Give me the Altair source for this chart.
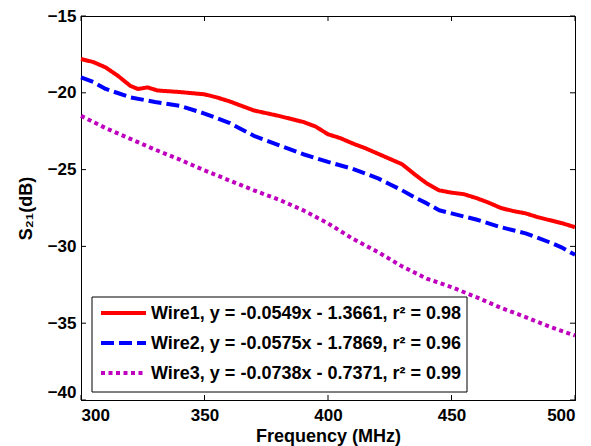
import altair as alt
import pandas as pd

# ---- data ----
w1_f = [300, 305, 310, 315, 320, 323, 327, 331, 340, 350, 355, 360, 370, 380, 385, 390, 395,
        400, 405, 410, 415, 420, 425, 430, 435, 440, 445, 450, 455, 460, 465, 470, 475, 480,
        485, 490, 495, 500]
w1_v = [-17.8, -18.0, -18.35, -18.9, -19.55, -19.75, -19.65, -19.85, -19.95, -20.1, -20.3,
        -20.55, -21.15, -21.5, -21.7, -21.9, -22.2, -22.7, -22.95, -23.3, -23.6, -23.95,
        -24.3, -24.65, -25.3, -25.9, -26.35, -26.5, -26.6, -26.85, -27.15, -27.5, -27.7,
        -27.85, -28.1, -28.3, -28.5, -28.75]

w2_f = [300, 305, 310, 320, 330, 340, 350, 360, 370, 380, 390, 400, 410, 415, 420, 425, 430,
        435, 440, 445, 450, 455, 460, 465, 470, 475, 480, 485, 490, 495, 500]
w2_v = [-19.0, -19.3, -19.75, -20.3, -20.6, -20.85, -21.35, -21.95, -22.8, -23.4, -24.0,
        -24.5, -24.95, -25.25, -25.55, -25.95, -26.35, -26.8, -27.2, -27.65, -27.85, -28.05,
        -28.25, -28.5, -28.75, -28.95, -29.15, -29.45, -29.75, -30.1, -30.55]

w3_f = [300, 310, 320, 330, 340, 350, 360, 370, 380, 390, 400, 410, 420, 430, 440, 450, 460,
        470, 480, 490, 500]
w3_v = [-21.5, -22.3, -23.0, -23.7, -24.35, -25.05, -25.7, -26.35, -26.95, -27.65, -28.5,
        -29.5, -30.35, -31.3, -32.1, -32.65, -33.3, -34.0, -34.6, -35.25, -35.8]

labels = [
    "Wire1, y = -0.0549x - 1.3661, r\u00b2 = 0.98",
    "Wire2, y = -0.0575x - 1.7869, r\u00b2 = 0.96",
    "Wire3, y = -0.0738x - 0.7371, r\u00b2 = 0.99",
]
colors = ["#FF0000", "#0000FF", "#BF00BF"]
dashes = [[1, 0], [13, 5], [4, 3.5]]

x_ticks = [300, 350, 400, 450, 500]
y_ticks = [-40, -35, -30, -25, -20, -15]

rows = []
for lab, fs, vs in zip(labels, [w1_f, w2_f, w3_f], [w1_v, w2_v, w3_v]):
    for f, v in zip(fs, vs):
        rows.append({"series": lab, "freq": f, "s21": v})
df = pd.DataFrame(rows)

W, H = 494, 384
FONT = "Liberation Sans"

xscale = alt.Scale(domain=[300, 500], nice=False, zero=False)
yscale = alt.Scale(domain=[-40, -15], nice=False, zero=False)

lines = alt.Chart(df).mark_line(strokeWidth=4, strokeCap="butt", strokeJoin="round").encode(
    x=alt.X("freq:Q", scale=xscale,
            axis=alt.Axis(values=x_ticks, title="Frequency (MHz)", grid=False, ticks=False,
                          domainColor="black", labelFont=FONT, labelFontSize=17,
                          labelFontWeight="bold", labelColor="black", labelPadding=7,
                          titleFont=FONT, titleFontSize=18, titleFontWeight="bold",
                          titleColor="black", titlePadding=4)),
    y=alt.Y("s21:Q", scale=yscale,
            axis=alt.Axis(values=y_ticks, title="S\u2082\u2081(dB)", grid=False, ticks=False,
                          domainColor="black", labelFont=FONT, labelFontSize=17,
                          labelFontWeight="bold", labelColor="black", labelPadding=5,
                          labelOffset={"condition": {"test": "datum.value == -40", "value": -8},
                                       "value": 0},
                          titleFont=FONT, titleFontSize=18, titleFontWeight="bold",
                          titleColor="black", titlePadding=12)),
    color=alt.Color("series:N", scale=alt.Scale(domain=labels, range=colors), legend=None),
    strokeDash=alt.StrokeDash("series:N", scale=alt.Scale(domain=labels, range=dashes),
                              legend=None),
    detail="series:N",
)

xt = pd.DataFrame({"v": x_ticks})
yt = pd.DataFrame({"v": y_ticks})
tick_style = dict(color="black", strokeWidth=1)
xb = alt.Chart(xt).mark_rule(**tick_style).encode(
    x=alt.X("v:Q", scale=xscale), y=alt.value(H), y2=alt.value(H - 5))
xtop = alt.Chart(xt).mark_rule(**tick_style).encode(
    x=alt.X("v:Q", scale=xscale), y=alt.value(0), y2=alt.value(5))
yl = alt.Chart(yt).mark_rule(**tick_style).encode(
    y=alt.Y("v:Q", scale=yscale), x=alt.value(0), x2=alt.value(5))
yr = alt.Chart(yt).mark_rule(**tick_style).encode(
    y=alt.Y("v:Q", scale=yscale), x=alt.value(W - 5), x2=alt.value(W))

# ---- legend box drawn by hand (MATLAB style) ----
LX0, LX1, LY0, LY1 = 11, 386, 281, 376
row_y = [297, 327, 357]
legend_layers = [
    alt.Chart(pd.DataFrame({"a": [0]})).mark_rect(
        fill="white", stroke="black", strokeWidth=1).encode(
        x=alt.value(LX0), x2=alt.value(LX1), y=alt.value(LY0), y2=alt.value(LY1))
]
for lab, col, dsh, ry in zip(labels, colors, dashes, row_y):
    d = pd.DataFrame({"label": [lab]})
    legend_layers.append(
        alt.Chart(d).mark_rule(color=col, strokeWidth=4, strokeDash=dsh, strokeCap="butt").encode(
            x=alt.value(20), x2=alt.value(65), y=alt.value(ry)))
    legend_layers.append(
        alt.Chart(d).mark_text(align="left", baseline="middle", font=FONT, fontSize=18,
                               fontWeight="bold", color="black").encode(
            text="label:N", x=alt.value(70), y=alt.value(ry + 1)))

chart = alt.layer(xb, xtop, yl, yr, lines, *legend_layers).properties(
    width=W, height=H,
    autosize=alt.AutoSizeParams(type="none"),
    padding={"left": 81, "top": 16, "right": 16, "bottom": 46},
    background="white",
).configure_view(stroke="black", strokeWidth=1)

chart.save("out.html", embed_options={"renderer": "svg", "actions": False})
